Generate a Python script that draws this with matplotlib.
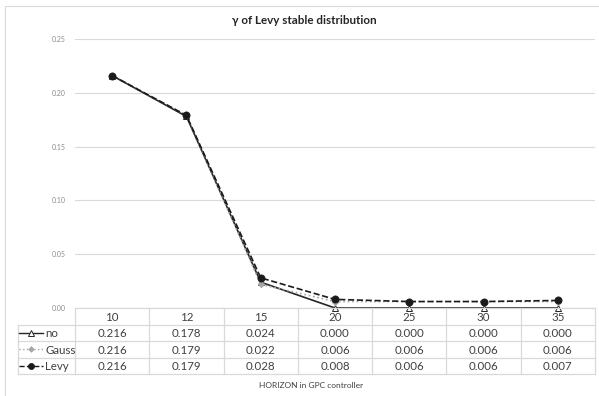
import matplotlib.pyplot as plt
from matplotlib.patches import Rectangle

plt.rcParams['font.family'] = ['Lato', 'DejaVu Sans']

# horizon values and gamma results for each noise type
horizons = ['10', '12', '15', '20', '25', '30', '35']
no_noise = [0.216, 0.178, 0.024, 0.000, 0.000, 0.000, 0.000]
gauss = [0.216, 0.179, 0.022, 0.006, 0.006, 0.006, 0.006]
levy = [0.216, 0.179, 0.028, 0.008, 0.006, 0.006, 0.007]
yticks = [0.00, 0.05, 0.10, 0.15, 0.20, 0.25]

series = [
    ('no', no_noise, dict(color='#262626', ls='-', marker='^', mfc='white', mec='#262626', ms=4.6, mew=0.7)),
    ('Gauss', gauss, dict(color='#a6a6a6', ls=':', marker='D', mfc='#a6a6a6', mec='#a6a6a6', ms=3.4, mew=0.5)),
    ('Levy', levy, dict(color='#1a1a1a', ls='--', marker='o', mfc='#1a1a1a', mec='#1a1a1a', ms=5.2, mew=0.5)),
]

W, H = 599, 396
fig = plt.figure(figsize=(W / 100, H / 100), dpi=100)

# light frame around the whole chart
fig.patches.append(Rectangle((5 / W, -0.01), (W - 3) / W, (H - 6) / H + 0.01,
                             transform=fig.transFigure, fill=False,
                             ec='#d9d9d9', lw=0.8))

# plot area
left, right, y0, ytop = 75, 595, 308, 39
ax = fig.add_axes([left / W, (H - y0) / H, (right - left) / W, (y0 - ytop) / H])
x = list(range(len(horizons)))
for name, vals, st in series:
    ax.plot(x, vals, lw=1.2, zorder=3, clip_on=False, **st)
ax.set_xlim(-0.5, len(horizons) - 0.5)
ax.set_ylim(0, 0.25)
ax.set_yticks(yticks)
ax.set_yticklabels(['%.2f' % v for v in yticks], fontsize=5, color='#8c8c8c')
ax.set_xticks([])
ax.grid(axis='y', color='#d9d9d9', lw=0.8)
ax.tick_params(axis='y', length=0, pad=7)
for s in ax.spines.values():
    s.set_visible(False)

fig.text(304 / W, (H - 21) / H, 'γ of Levy stable distribution', fontsize=8.4,
         fontweight='bold', color='#262626', ha='center', va='center')

# data table under the plot, same category units on x
tab_left, tab_bottom = 18, 374
unit = (right - left) / len(horizons)
x_min = -0.5 - (left - tab_left) / unit
tab = fig.add_axes([tab_left / W, (H - tab_bottom) / H, (right - tab_left) / W, (tab_bottom - y0) / H])
tab.set_xlim(x_min, len(horizons) - 0.5)
tab.set_ylim(4, 0)
tab.axis('off')

gc = '#d9d9d9'
tc = '#404040'
fs = 8.3
n = len(horizons)
# horizontal rules
tab.plot([-0.5, n - 0.5], [0, 0], color=gc, lw=0.9, clip_on=False)
for r in range(1, 5):
    tab.plot([x_min, n - 0.5], [r, r], color=gc, lw=0.9, clip_on=False)
# vertical rules
tab.plot([x_min, x_min], [1, 4], color=gc, lw=0.9, clip_on=False)
for c in range(n + 1):
    tab.plot([c - 0.5, c - 0.5], [0, 4], color=gc, lw=0.9, clip_on=False)

for c, h in enumerate(horizons):
    tab.text(c, 0.55, h, ha='center', va='center', fontsize=fs, color=tc)
for r, (name, vals, st) in enumerate(series, start=1):
    for c, v in enumerate(vals):
        tab.text(c, r + 0.55, '%.3f' % v, ha='center', va='center', fontsize=fs, color=tc)
    # legend key in the first column
    kx = [x_min + 0.02, x_min + 0.33]
    tab.plot(kx, [r + 0.5, r + 0.5], color=st['color'], ls=st['ls'], lw=1.0, clip_on=False)
    tab.plot([sum(kx) / 2], [r + 0.5], ls='none', marker=st['marker'], mfc=st['mfc'],
             mec=st['mec'], ms=st['ms'] * 0.85, mew=st['mew'], clip_on=False)
    tab.text(x_min + 0.37, r + 0.55, name, ha='left', va='center', fontsize=fs, color=tc)

fig.text(311 / W, (H - 386) / H, 'HORIZON in GPC controller',
         ha='center', va='center', fontsize=6, color='#404040')

fig.savefig('out.png', dpi=100)
